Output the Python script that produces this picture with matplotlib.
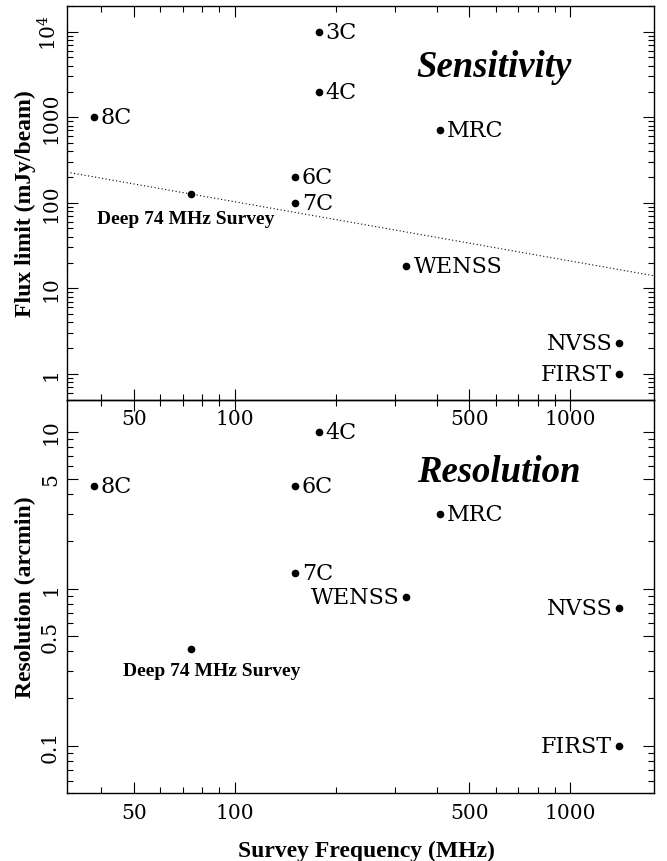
import matplotlib
matplotlib.use("Agg")
import matplotlib.pyplot as plt
from matplotlib.ticker import FixedLocator, LogLocator, NullFormatter, FixedFormatter

# survey data
surveys = ['3C', '4C', '8C', '6C', '7C', 'MRC', 'WENSS', 'NVSS', 'FIRST']
freq = [178, 178, 38, 151, 151, 408, 325, 1400, 1400]          # MHz
flux = [10000, 2000, 1000, 200, 100, 700, 18, 2.3, 1.0]         # mJy/beam
res_surveys = ['4C', '8C', '6C', '7C', 'MRC', 'WENSS', 'NVSS', 'FIRST']
res_freq = [178, 38, 151, 151, 408, 325, 1400, 1400]
resolution = [10, 4.5, 4.5, 1.25, 3.0, 0.88, 0.75, 0.1]          # arcmin

# label goes on the left of the dot for these
flux_left = ['NVSS', 'FIRST']
res_left = ['WENSS', 'NVSS', 'FIRST']

# the new survey
deep_freq = 74
deep_flux = 125
deep_res = 0.41

# dotted line in the sensitivity panel (end points)
line_freq = [31.6, 1778]
line_flux = [228, 14]

xticks = [50, 100, 500, 1000]
flux_ticks = [1, 10, 100, 1000, 10000]
flux_ticklabels = ['1', '10', '100', '1000', r'$10^4$']
res_ticks = [0.1, 0.5, 1, 5, 10]
res_ticklabels = ['0.1', '0.5', '1', '5', '10']

plt.rcParams['font.family'] = 'DejaVu Serif'
plt.rcParams['mathtext.fontset'] = 'dejavuserif'

fig = plt.figure(figsize=(6.67, 8.62), dpi=100)
W, H = 667.0, 862.0
left, right = 67 / W, 654 / W
ax2 = fig.add_axes([left, 1 - 794 / H, right - left, 393.5 / H])
ax1 = fig.add_axes([left, 1 - 400.5 / H, right - left, 393.5 / H])
# keep the top panel's tick labels visible over the lower panel
ax1.patch.set_alpha(0)
ax1.set_zorder(2)


def style_axes(ax, yticks, yticklabels):
    ax.set_xscale('log')
    ax.set_yscale('log')
    ax.set_xlim(31.6, 1778)
    ax.xaxis.set_major_locator(FixedLocator(xticks))
    ax.xaxis.set_major_formatter(FixedFormatter([str(t) for t in xticks]))
    ax.xaxis.set_minor_locator(LogLocator(base=10, subs=range(2, 10)))
    ax.xaxis.set_minor_formatter(NullFormatter())
    ax.yaxis.set_major_locator(FixedLocator(yticks))
    ax.yaxis.set_major_formatter(FixedFormatter(yticklabels))
    ax.yaxis.set_minor_locator(LogLocator(base=10, subs=range(2, 10)))
    ax.yaxis.set_minor_formatter(NullFormatter())
    ax.tick_params(which='both', direction='in', top=True, right=True, width=0.8)
    ax.tick_params(which='major', length=8)
    ax.tick_params(which='minor', length=4.5)
    ax.tick_params(axis='x', labelsize=14.5, pad=7)
    ax.tick_params(axis='y', labelsize=14.5, pad=5)
    for lab in ax.get_yticklabels():
        lab.set_rotation(90)
        lab.set_va('center')
    for sp in ax.spines.values():
        sp.set_linewidth(1.0)


def label_points(ax, names, xs, ys, on_left):
    for name, x, y in zip(names, xs, ys):
        ax.plot(x, y, 'o', color='black', ms=4.5, zorder=3)
        if name in on_left:
            ax.annotate(name, (x, y), xytext=(-5, 0), textcoords='offset points',
                        ha='right', va='center', fontsize=16)
        else:
            ax.annotate(name, (x, y), xytext=(5, 0), textcoords='offset points',
                        ha='left', va='center', fontsize=16)


# --- sensitivity panel ---
style_axes(ax1, flux_ticks, flux_ticklabels)
ax1.set_ylim(0.5, 20000)
ax1.plot(line_freq, line_flux, color='black', lw=0.8, dashes=(1, 2.2))
label_points(ax1, surveys, freq, flux, flux_left)
ax1.plot(deep_freq, deep_flux, 'o', color='black', ms=4.5, zorder=3)
ax1.annotate('Deep 74 MHz Survey', (deep_freq, deep_flux), xytext=(-4, -17),
             textcoords='offset points', ha='center', va='center',
             fontsize=14, fontweight='bold', family='Liberation Serif')
ax1.text(0.727, 0.845, 'Sensitivity', transform=ax1.transAxes, ha='center', va='center',
         fontsize=26.5, fontweight='bold', fontstyle='italic', family='Liberation Serif')
ax1.set_ylabel('Flux limit (mJy/beam)', fontsize=17, fontweight='bold',
               family='Liberation Serif')
ax1.yaxis.set_label_coords(-0.052, 0.5)

# --- resolution panel ---
style_axes(ax2, res_ticks, res_ticklabels)
ax2.set_ylim(0.05, 16)
label_points(ax2, res_surveys, res_freq, resolution, res_left)
ax2.plot(deep_freq, deep_res, 'o', color='black', ms=4.5, zorder=3)
ax2.annotate('Deep 74 MHz Survey', (deep_freq, deep_res), xytext=(15, -15),
             textcoords='offset points', ha='center', va='center',
             fontsize=14, fontweight='bold', family='Liberation Serif')
ax2.text(0.735, 0.817, 'Resolution', transform=ax2.transAxes, ha='center', va='center',
         fontsize=26.5, fontweight='bold', fontstyle='italic', family='Liberation Serif')
ax2.set_ylabel('Resolution (arcmin)', fontsize=17, fontweight='bold',
               family='Liberation Serif')
ax2.yaxis.set_label_coords(-0.052, 0.5)

fig.text(366 / W, 1 - 851.7 / H, 'Survey Frequency (MHz)', ha='center', va='center',
         fontsize=17, fontweight='bold', family='Liberation Serif')

fig.savefig('out.png', dpi=100)
